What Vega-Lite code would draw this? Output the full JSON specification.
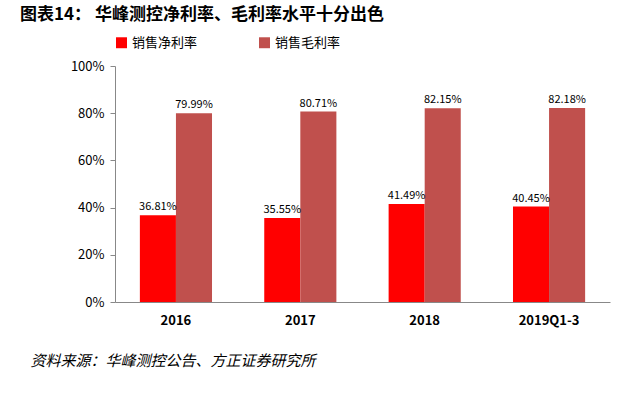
{
"$schema":"https://vega.github.io/schema/vega-lite/v6.json",
"width":495,"height":236,
"padding":{"left":20,"top":6,"right":35,"bottom":8},
"background":"white",
"config":{"font":"Noto Sans CJK SC","view":{"stroke":null}},
"title":{"text":"图表14：      华峰测控净利率、毛利率水平十分出色","anchor":"start","frame":"bounds","fontSize":17,"fontWeight":"bold","color":"#000","offset":12,"dx":-10},
"data":{"values":[
{"year":"2016","type":"销售净利率","v":0.3681,"l":"36.81%"},
{"year":"2016","type":"销售毛利率","v":0.7999,"l":"79.99%"},
{"year":"2017","type":"销售净利率","v":0.3555,"l":"35.55%"},
{"year":"2017","type":"销售毛利率","v":0.8071,"l":"80.71%"},
{"year":"2018","type":"销售净利率","v":0.4149,"l":"41.49%"},
{"year":"2018","type":"销售毛利率","v":0.8215,"l":"82.15%"},
{"year":"2019Q1-3","type":"销售净利率","v":0.4045,"l":"40.45%"},
{"year":"2019Q1-3","type":"销售毛利率","v":0.8218,"l":"82.18%"}
]},
"encoding":{
"x":{"field":"year","type":"nominal","sort":null,"scale":{"paddingInner":0.42,"paddingOuter":0.2},
 "axis":{"title":"资料来源：华峰测控公告、方正证券研究所","titleAnchor":"start","titleX":-85,"titlePadding":26,"titleFontSize":15,"titleFontStyle":"italic","titleFontWeight":"normal","labelAngle":0,"labelFontSize":13,"labelFontWeight":"bold","labelColor":"#000","domainColor":"#888","ticks":false,"labelPadding":12}},
"xOffset":{"field":"type","type":"nominal","scale":{"paddingInner":0}},
"y":{"field":"v","type":"quantitative","scale":{"domain":[0,1]},
 "axis":{"format":".0%","tickCount":5,"title":null,"grid":false,"domainColor":"#888","tickColor":"#888","labelFontSize":13,"labelColor":"#000","labelPadding":6}},
"color":{"field":"type","type":"nominal","scale":{"range":["#FF0000","#C0504D"]},
 "legend":{"orient":"top","title":null,"symbolType":"square","symbolSize":120,"labelFontSize":13,"columnPadding":60,"offset":16}}
},
"layer":[
{"mark":{"type":"bar"}},
{"mark":{"type":"text","dy":-8,"fontSize":11,"color":"#000"},"encoding":{"text":{"field":"l"},"color":{"value":"#000"}}}
]
}
